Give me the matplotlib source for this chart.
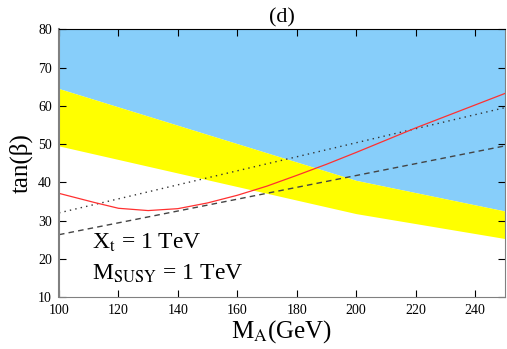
import matplotlib
matplotlib.use("Agg")
import matplotlib.pyplot as plt

plt.rcParams['font.family'] = ['Liberation Serif', 'DejaVu Serif']
plt.rcParams['mathtext.fontset'] = 'stix'

# band boundaries (tan beta vs M_A)
band_ma = [100, 200, 250]
band_upper = [64.5, 40.5, 32.5]
band_lower = [49.5, 31.8, 25.3]

# straight reference lines
line_ma = [100, 250]
dotted_tb = [32.0, 59.5]
dashed_tb = [26.3, 49.5]

# red curve
red_ma = [100, 112, 120, 130, 140, 150, 160, 170, 180, 190, 200, 210, 220, 230, 240, 250]
red_tb = [37.1, 34.7, 33.2, 32.6, 33.1, 34.6, 36.6, 39.0, 41.8, 44.7, 47.8, 51.0, 54.2, 57.2, 60.2, 63.2]

fig = plt.figure(figsize=(5.07, 3.49), dpi=100)
ax = fig.add_axes([0.1164, 0.149, 0.879, 0.767])

ax.fill_between(band_ma, band_upper, 80, color='#87CEFA', lw=0)
ax.fill_between(band_ma, band_lower, band_upper, color='#FFFF00', lw=0)

ax.plot(line_ma, dotted_tb, color='#333333', ls=(0, (1, 3)), lw=1.0)
ax.plot(line_ma, dashed_tb, color='#444444', ls=(0, (4, 3)), lw=1.0)
ax.plot(red_ma, red_tb, color='#FF3030', lw=0.9)

ax.set_xlim(100, 250)
ax.set_ylim(10, 80)
ax.set_xticks(range(100, 251, 20))
ax.set_yticks(range(10, 81, 10))
ax.tick_params(direction='in', length=5, top=True, right=True, labelsize=10, pad=5)

for side in ['left', 'bottom', 'right']:
    ax.spines[side].set_color('#808080')
ax.spines['left'].set_linewidth(1.5)
ax.spines['top'].set_color('black')

ax.text(111, 22.5, r'X$_{\rm t}$ = 1 TeV', fontsize=17)
ax.text(111, 14.4, r'M$_{\rm SUSY}$ = 1 TeV', fontsize=17)

ax.set_xlabel(r'M$_{\rm A}$(GeV)', fontsize=18, labelpad=1)
ax.set_ylabel('tan(β)', fontsize=18, labelpad=4)
ax.set_title('(d)', fontsize=16, pad=5)

fig.savefig('out.png', dpi=100)
